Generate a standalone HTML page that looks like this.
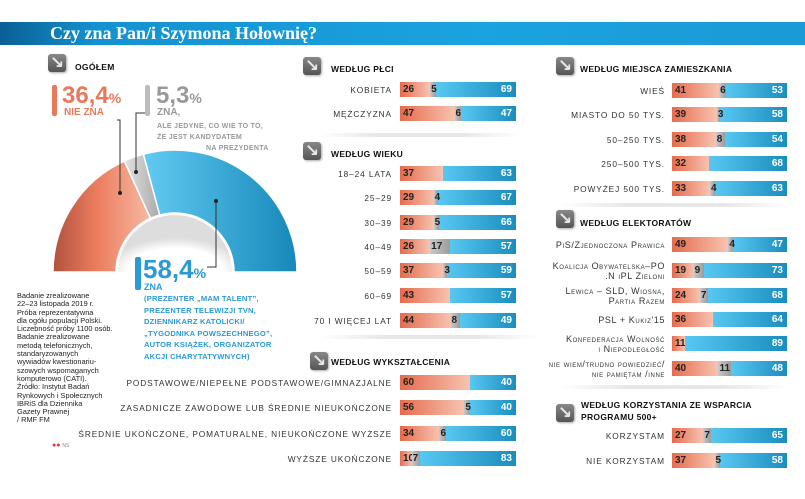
<!DOCTYPE html>
<html><head><meta charset="utf-8">
<style>
*{margin:0;padding:0;box-sizing:border-box}
body{width:805px;height:499px;background:#fff;position:relative;overflow:hidden;font-family:"Liberation Sans",sans-serif;color:#333}
.abs{position:absolute}
.title{left:0;top:22px;width:805px;height:23px;background:linear-gradient(90deg,#0a5f95 0%,#1492cf 12%,#1aa3e0 60%,#1a9ad6 100%)}
.title span{position:absolute;left:50px;top:1px;font-family:"Liberation Serif",serif;font-weight:bold;font-size:18px;color:#fff}
.icon{width:18px;height:18px;border-radius:3px;background:linear-gradient(#888,#555);box-shadow:1px 1px 2px #aaa;color:#e8e8e8;font-family:"DejaVu Sans",sans-serif;font-weight:bold;font-size:17px;line-height:18px;text-align:center}
.hdr{font-size:8.5px;font-weight:bold;color:#111;letter-spacing:0.3px}
.lbl{font-size:8.3px;color:#333;letter-spacing:0.9px;text-align:right;white-space:nowrap;line-height:10px}
.bar{height:15px}
.seg{position:absolute;top:0;height:15px;font-size:10px;font-weight:bold;line-height:15px;overflow:visible;white-space:nowrap}
.red{background:linear-gradient(90deg,#e56c4d,#f7c3b0)}
.gray{background:linear-gradient(90deg,#c8c8c8,#9c9c9c);color:#222;z-index:2}
.blue{background:linear-gradient(90deg,#58c8f2,#1a8dbe);color:#fff;text-align:right;padding-right:4px}
.red span{padding-left:3px;color:#222}
.gray span{padding-left:1px}
.sep{height:4px;background:linear-gradient(90deg,#fff,#e6e6e6 30%,#e6e6e6 70%,#fff);border-radius:2px}
.foot{left:17px;top:292px;font-size:7.4px;line-height:8.3px;color:#222;width:125px}
</style></head><body>
<div class="abs title"><span>Czy zna Pan/i Szymona Hołownię?</span></div>

<div class="abs icon" style="left:48px;top:54px">↘</div>
<div class="abs hdr" style="left:75px;top:62px">OGÓŁEM</div>

<svg class="abs" style="left:0;top:0" width="310" height="300">
<defs>
<linearGradient id="gr" x1="0" x2="1"><stop offset="0" stop-color="#b0523c"/><stop offset="0.45" stop-color="#ec7d5f"/><stop offset="1" stop-color="#f6b9a3"/></linearGradient>
<linearGradient id="gb" x1="0" x2="1"><stop offset="0" stop-color="#62cbf3"/><stop offset="1" stop-color="#1688b9"/></linearGradient>
<linearGradient id="gg" x1="0" x2="1"><stop offset="0" stop-color="#e2e2e2"/><stop offset="1" stop-color="#aaa"/></linearGradient>
<radialGradient id="sh" cx="0.5" cy="1" r="0.6"><stop offset="0.7" stop-color="#fff"/><stop offset="1" stop-color="#ddd"/></radialGradient>
</defs>
<g id="donut"></g>
<path d="M117,120 L120,120 L120,193" fill="none" stroke="#333" stroke-width="1"/>
<circle cx="120" cy="193" r="2" fill="#222"/>
<path d="M145,113 L136,113 L136,172" fill="none" stroke="#333" stroke-width="1"/>
<circle cx="136" cy="172" r="2" fill="#222"/>
<path d="M216,201 L216,267 L207,267" fill="none" stroke="#333" stroke-width="1"/>
<circle cx="216" cy="201" r="2" fill="#222"/>
</svg>

<div class="abs" style="left:52px;top:85px;width:5px;height:31px;background:#e8795c;border-radius:2px"></div>
<div class="abs" style="left:62px;top:83px;font-size:24px;font-weight:bold;color:#e8795c;line-height:26px">36,4<span style="font-size:14px">%</span></div>
<div class="abs" style="left:64px;top:107px;font-size:10px;font-weight:bold;color:#e8795c">NIE ZNA</div>

<div class="abs" style="left:145px;top:85px;width:5px;height:31px;background:#bbb;border-radius:2px"></div>
<div class="abs" style="left:156px;top:83px;font-size:24px;font-weight:bold;color:#999;line-height:26px">5,3<span style="font-size:14px">%</span></div>
<div class="abs" style="left:157px;top:107px;font-size:10px;font-weight:bold;color:#999">ZNA,</div>
<div class="abs" style="left:157px;top:121px;font-size:7px;font-weight:bold;color:#999;line-height:11px;letter-spacing:0.3px">ALE JEDYNE, CO WIE TO TO,<br>ŻE JEST KANDYDATEM<br><span style="padding-left:49px">NA PREZYDENTA</span></div>

<div class="abs" style="left:135px;top:257px;width:6px;height:33px;background:#2a9ad6;border-radius:2px"></div>
<div class="abs" style="left:143px;top:255px;font-size:26px;font-weight:bold;color:#2a9ad6;line-height:28px">58,4<span style="font-size:14px">%</span></div>
<div class="abs" style="left:144px;top:282px;font-size:9px;font-weight:bold;color:#2a9ad6">ZNA</div>
<div class="abs" style="left:144px;top:293px;font-size:7.6px;font-weight:bold;color:#2a9ad6;line-height:11.5px;letter-spacing:0.2px">(PREZENTER „MAM TALENT”,<br>PREZENTER TELEWIZJI TVN,<br>DZIENNIKARZ KATOLICKI/<br>„TYGODNIKA POWSZECHNEGO”,<br>AUTOR KSIĄŻEK, ORGANIZATOR<br>AKCJI CHARYTATYWNYCH)</div>

<div class="abs foot">Badanie zrealizowane<br>22–23 listopada 2019 r.<br>Próba reprezentatywna<br>dla ogółu populacji Polski.<br>Liczebność próby 1100 osób.<br>Badanie zrealizowane<br>metodą telefonicznych,<br>standaryzowanych<br>wywiadów kwestionariu-<br>szowych wspomaganych<br>komputerowo (CATI).<br>Źródło: Instytut Badań<br>Rynkowych i Społecznych<br>IBRiS dla Dziennika<br>Gazety Prawnej<br>/ RMF FM</div>
<div class="abs" style="left:52px;top:442px;font-size:7px;color:#e33">●● <span style="color:#888;font-size:5px">NS</span></div>

<div id="charts"></div>

<script>
// Donut data
const donutLabels = ["nie zna","zna, ale jedyne","zna"];
const donutValues = [36.4, 5.3, 58.4];

// Section data
const plecCats = ["KOBIETA","MĘŻCZYZNA"];
const plecNie = [26,47]; const plecAle = [5,6]; const plecZna = [69,47];

const wiekCats = ["18–24 LATA","25–29","30–39","40–49","50–59","60–69","70 I WIĘCEJ LAT"];
const wiekNie = [37,29,29,26,37,43,44]; const wiekAle = [0,4,5,17,3,0,8]; const wiekZna = [63,67,66,57,59,57,49];

const wyksCats = ["PODSTAWOWE/NIEPEŁNE PODSTAWOWE/GIMNAZJALNE","ZASADNICZE ZAWODOWE LUB ŚREDNIE NIEUKOŃCZONE","ŚREDNIE UKOŃCZONE, POMATURALNE, NIEUKOŃCZONE WYŻSZE","WYŻSZE UKOŃCZONE"];
const wyksNie = [60,56,34,10]; const wyksAle = [0,5,6,7]; const wyksZna = [40,40,60,83];

const miejCats = ["WIEŚ","MIASTO DO 50 TYS.","50–250 TYS.","250–500 TYS.","POWYŻEJ 500 TYS."];
const miejNie = [41,39,38,32,33]; const miejAle = [6,3,8,0,4]; const miejZna = [53,58,54,68,63];

const elekCats = ["PiS/Zjednoczona Prawica","Koalicja Obywatelska–PO<br>.N iPL Zieloni","Lewica – SLD, Wiosna,<br>Partia Razem","PSL + Kukiz'15","Konfederacja Wolność<br>i Niepodległość","nie wiem/trudno powiedzieć/<br>nie pamiętam /inne"];
const elekNie = [49,19,24,36,11,40]; const elekAle = [4,9,7,0,0,11]; const elekZna = [47,73,68,64,89,48];

const progCats = ["KORZYSTAM","NIE KORZYSTAM"];
const progNie = [27,37]; const progAle = [7,5]; const progZna = [65,58];

// Donut drawing
(function(){
  const cx=175, cy=272, R=122, r=59;
  const g=document.getElementById('donut');
  const ns='http://www.w3.org/2000/svg';
  const total=donutValues.reduce((a,b)=>a+b,0);
  const fills=['url(#gr)','url(#gg)','url(#gb)'];
  const names=['slice-nie-zna','slice-zna-ale','slice-zna'];
  let a0=Math.PI;
  donutValues.forEach((v,i)=>{
    const a1=a0-Math.PI*v/total;
    const p=(rad,a)=>[cx+rad*Math.cos(a), cy-rad*Math.sin(a)];
    const [x0,y0]=p(R,a0),[x1,y1]=p(R,a1),[x2,y2]=p(r,a1),[x3,y3]=p(r,a0);
    const path=document.createElementNS(ns,'path');
    path.setAttribute('d',`M${x0},${y0} A${R},${R} 0 0 1 ${x1},${y1} L${x2},${y2} A${r},${r} 0 0 0 ${x3},${y3} Z`);
    path.setAttribute('fill',fills[i]);
    path.setAttribute('stroke','#fff');
    path.setAttribute('stroke-width','1.5');
    
    
    g.appendChild(path);
    a0=a1;
  });
  const sh=document.createElementNS(ns,'path');
  sh.setAttribute('d',`M${cx-r+2},${cy} A${r-2},${r-2} 0 0 1 ${cx+r-2},${cy} Z`);
  sh.setAttribute('fill','url(#sh)');
  
  
  g.appendChild(sh);
})();

const root=document.getElementById('charts');
function mk(cls,style,html){const d=document.createElement('div');d.className='abs '+cls;d.style.cssText=style;if(html!==undefined)d.innerHTML=html;root.appendChild(d);return d;}

function section(key,title,iconX,iconY,hdrX,hdrY,cats,nie,ale,zna,labelRight,barX,barW,rowYs,lblStyle){
  const ic=mk('icon',`left:${iconX}px;top:${iconY}px`,'↘');
  
  
  const h=mk('hdr',`left:${hdrX}px;top:${hdrY}px;line-height:12px`,title);
  
  
  cats.forEach((c,i)=>{
    const y=rowYs[i];
    const two=c.indexOf('<br>')>=0;
    const l=mk('lbl',`right:${805-labelRight}px;top:${two?y-2:y+3}px;${lblStyle||''}`,c);
    
    
    const bar=mk('bar',`left:${barX}px;top:${y}px;width:${barW}px`);
    
    
    const tot=nie[i]+ale[i]+zna[i];
    const sx=v=>v/tot*barW;
    const wN=sx(nie[i]), wA=sx(ale[i]), wZ=sx(zna[i]);
    const s1=document.createElement('div');s1.className='seg red';s1.style.cssText=`left:0;width:${wN}px`;s1.innerHTML='<span>'+nie[i]+'</span>';
    
    
    bar.appendChild(s1);
    if(ale[i]>0){
      const s2=document.createElement('div');s2.className='seg gray';s2.style.cssText=`left:${wN}px;width:${wA}px`;s2.innerHTML='<span>'+ale[i]+'</span>';
      
      
      bar.appendChild(s2);
    }
    const s3=document.createElement('div');s3.className='seg blue';s3.style.cssText=`left:${wN+wA}px;width:${wZ}px`;s3.textContent=zna[i];
    
    
    bar.appendChild(s3);
  });
}

section('plec','WEDŁUG PŁCI',303,57,331,63,plecCats,plecNie,plecAle,plecZna,392,400,116,[82,106]);
section('wiek','WEDŁUG WIEKU',303,142,331,148,wiekCats,wiekNie,wiekAle,wiekZna,392,400,116,[166,190,215,239,263,288,313]);
section('wyksztalcenie','WEDŁUG WYKSZTAŁCENIA',310,352,331,356,wyksCats,wyksNie,wyksAle,wyksZna,392,400,116,[375,400,426,451]);
section('miejsce','WEDŁUG MIEJSCA ZAMIESZKANIA',556,57,580,63,miejCats,miejNie,miejAle,miejZna,665,672,115,[83,107,132,156,181]);
section('elektorat','WEDŁUG ELEKTORATÓW',556,210,580,217,elekCats,elekNie,elekAle,elekZna,665,672,115,[237,263,288,312,336,361],'font-size:9px;letter-spacing:0.6px;font-variant:small-caps;text-transform:none');
section('program500','WEDŁUG KORZYSTANIA ZE WSPARCIA<br>PROGRAMU 500+',556,404,581,399,progCats,progNie,progAle,progZna,665,672,115,[428,453]);

[['sep-mid-1',320,133,200],['sep-mid-2',320,335,220],['sep-right-1',560,203,230],['sep-right-2',560,385,230]].forEach(s=>{
  const d=mk('sep',`left:${s[1]}px;top:${s[2]}px;width:${s[3]}px`);
  
  
});
</script>
</body></html>
